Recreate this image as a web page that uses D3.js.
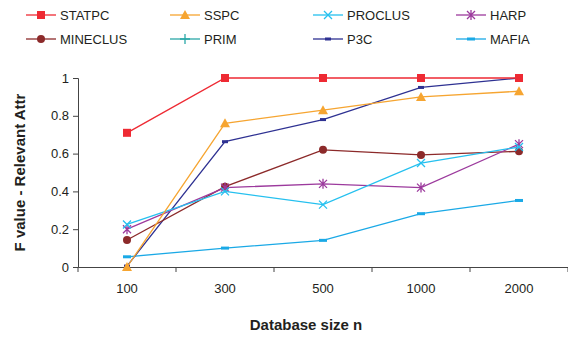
<!DOCTYPE html>
<html>
<head>
<meta charset="utf-8">
<script src="https://cdn.jsdelivr.net/npm/d3@7"></script>
<style>
  body { margin: 0; background: #fff; }
  text { font-family: "Liberation Sans", Arial, sans-serif; fill: #231f20; }
</style>
</head>
<body>
<div id="chart"></div>
<script>
// data
const sizes = ['100', '300', '500', '1000', '2000'];
const yTicks = [0, 0.2, 0.4, 0.6, 0.8, 1];

const statpc   = [0.71, 1.0, 1.0, 1.0, 1.0];
const sspc     = [0.0, 0.76, 0.83, 0.90, 0.93];
const proclus  = [0.225, 0.40, 0.33, 0.55, 0.635];
const harp     = [0.20, 0.42, 0.44, 0.42, 0.65];
const mineclus = [0.143, 0.425, 0.62, 0.593, 0.612];
const prim     = [];   // not visible in the plot
const p3c      = [0.005, 0.663, 0.78, 0.95, 1.0];
const mafia    = [0.054, 0.10, 0.141, 0.282, 0.352];

const series = [
    { name: 'STATPC',   values: statpc,   color: '#ee2a33', marker: 'square' },
    { name: 'SSPC',     values: sspc,     color: '#f6a531', marker: 'triangle' },
    { name: 'PROCLUS',  values: proclus,  color: '#25c0ef', marker: 'x' },
    { name: 'HARP',     values: harp,     color: '#9c3a9d', marker: 'star' },
    { name: 'MINECLUS', values: mineclus, color: '#8c2a2a', marker: 'circle' },
    { name: 'PRIM',     values: prim,     color: '#2aa8a8', marker: 'plus' },
    { name: 'P3C',      values: p3c,      color: '#2e3192', marker: 'dash' },
    { name: 'MAFIA',    values: mafia,    color: '#1aa9e6', marker: 'bar' }
];

const width = 568, height = 339;
const margin = { left: 78, right: 0, top: 78, bottom: 72 };

const svg = d3.select('#chart').append('svg')
    .attr('width', width)
    .attr('height', height);

const x = d3.scaleBand().domain(sizes).range([margin.left, width - margin.right]);
const y = d3.scaleLinear().domain([0, 1]).range([height - margin.bottom, margin.top]);

// axes
const yAxis = svg.append('g')
    .attr('transform', `translate(${margin.left},0)`)
    .call(d3.axisLeft(y).tickValues(yTicks).tickSize(5).tickPadding(4).tickFormat(d => d3.format('')(d)));
yAxis.select('.domain').attr('stroke', '#444');
yAxis.selectAll('.tick line').attr('stroke', '#444');
yAxis.selectAll('text').style('font-size', '13px').attr('fill', '#231f20');

const xAxis = svg.append('g')
    .attr('transform', `translate(0,${y(0)})`)
    .call(d3.axisBottom(x).tickSize(0).tickPadding(17));
xAxis.select('.domain').attr('stroke', '#444');
xAxis.selectAll('text').style('font-size', '13px').attr('fill', '#231f20');

// tick marks between the categories
svg.append('g').selectAll('line')
    .data(sizes)
    .join('line')
    .attr('x1', d => x(d) + x.bandwidth())
    .attr('x2', d => x(d) + x.bandwidth())
    .attr('y1', y(0))
    .attr('y2', y(0) + 5)
    .attr('stroke', '#444');
svg.append('line')
    .attr('x1', margin.left).attr('x2', margin.left)
    .attr('y1', y(0)).attr('y2', y(0) + 5)
    .attr('stroke', '#444');

// titles
svg.append('text')
    .attr('x', 306)
    .attr('y', 330)
    .attr('text-anchor', 'middle')
    .style('font-size', '15px')
    .style('font-weight', 'bold')
    .text('Database size n');

svg.append('text')
    .attr('transform', `translate(25,${(y(0) + y(1)) / 2}) rotate(-90)`)
    .attr('text-anchor', 'middle')
    .style('font-size', '15px')
    .style('font-weight', 'bold')
    .text('F value - Relevant Attr');

// marker drawing
function drawMarker(g, type, color) {
    if (type === 'square') {
        g.append('rect').attr('x', -4).attr('y', -4).attr('width', 8).attr('height', 8).attr('fill', color);
    } else if (type === 'triangle') {
        g.append('path').attr('d', 'M0,-5L5,4L-5,4Z').attr('fill', color);
    } else if (type === 'circle') {
        g.append('circle').attr('r', 4).attr('fill', color);
    } else if (type === 'x') {
        g.append('path').attr('d', 'M-4,-4L4,4M-4,4L4,-4').attr('stroke', color).attr('stroke-width', 1.3);
    } else if (type === 'star') {
        g.append('path').attr('d', 'M-4,-4L4,4M-4,4L4,-4M0,-5L0,5').attr('stroke', color).attr('stroke-width', 1.3);
    } else if (type === 'plus') {
        g.append('path').attr('d', 'M-5,0L5,0M0,-5L0,5').attr('stroke', color).attr('stroke-width', 1.3);
    } else if (type === 'dash') {
        g.append('rect').attr('x', -3).attr('y', -1.5).attr('width', 6).attr('height', 3).attr('fill', color);
    } else if (type === 'bar') {
        g.append('rect').attr('x', -4).attr('y', -1.5).attr('width', 8).attr('height', 3).attr('fill', color);
    }
}

const line = d3.line()
    .x((d, i) => x(sizes[i]) + x.bandwidth() / 2)
    .y(d => y(d));

// draw lines then markers, in reverse so STATPC sits on top
const plot = svg.append('g');
series.slice().reverse().forEach(s => {
    if (!s.values.length) return;
    plot.append('path')
        .datum(s.values)
        .attr('fill', 'none')
        .attr('stroke', s.color)
        .attr('stroke-width', 1.3)
        .attr('d', line);
    s.values.forEach((v, i) => {
        const g = plot.append('g')
            .attr('transform', `translate(${x(sizes[i]) + x.bandwidth() / 2},${y(v)})`);
        drawMarker(g, s.marker, s.color);
    });
});

// legend
const legX = [26, 170, 313, 456];
const legY = [15, 39];
series.forEach((s, i) => {
    const col = i % 4, row = Math.floor(i / 4);
    const g = svg.append('g').attr('transform', `translate(${legX[col]},${legY[row]})`);
    g.append('line')
        .attr('x1', 0).attr('x2', 30)
        .attr('stroke', s.color)
        .attr('stroke-width', 1.3);
    const m = g.append('g').attr('transform', 'translate(15,0)');
    drawMarker(m, s.marker, s.color);
    g.append('text')
        .attr('x', 34)
        .attr('y', 5)
        .style('font-size', '13px')
        .text(s.name);
});
</script>
</body>
</html>
